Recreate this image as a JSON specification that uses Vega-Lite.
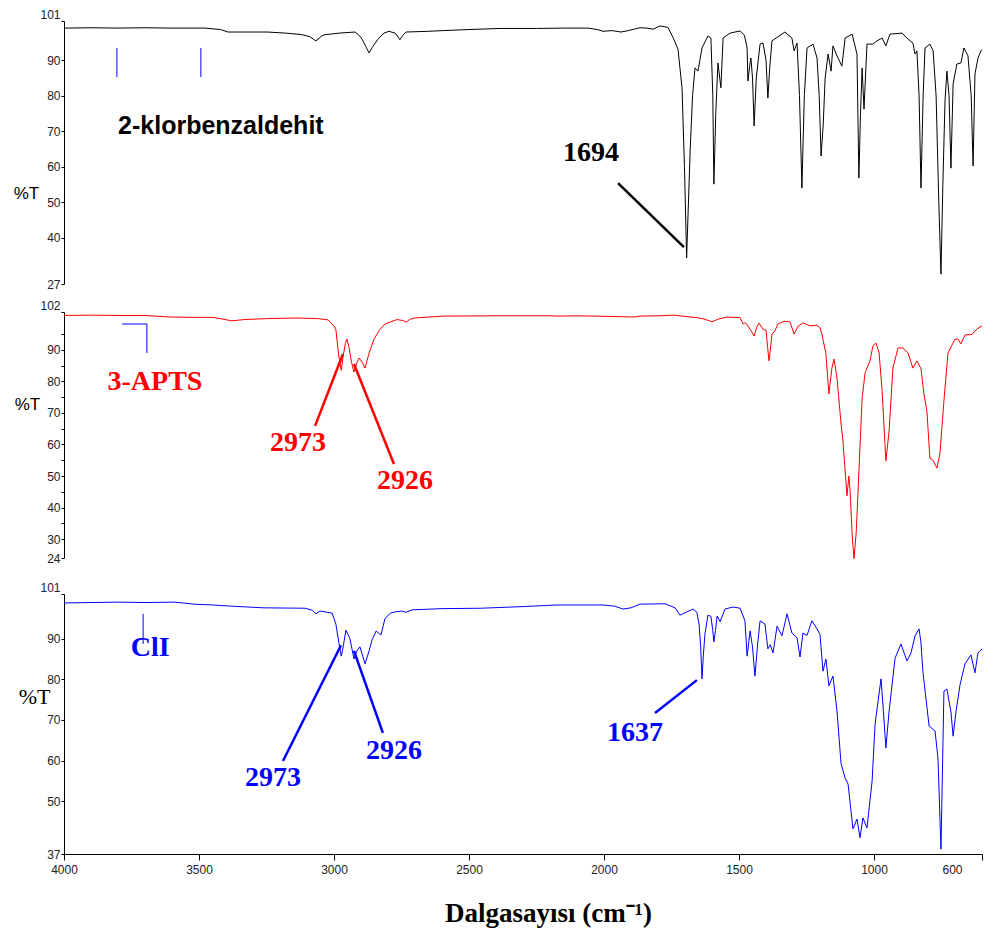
{
  "$schema": "https://vega.github.io/schema/vega-lite/v6.json",
  "background": "white",
  "padding": {"left": 13, "top": 8, "right": 5, "bottom": 5},
  "config": {
    "view": {"stroke": null},
    "axis": {
      "grid": false,
      "domainColor": "black",
      "tickColor": "black",
      "labelColor": "#222222",
      "labelFont": "Liberation Sans",
      "labelFontSize": 12,
      "labelOverlap": false,
      "titleColor": "black"
    }
  },
  "datasets": {
    "klor": [
      {"wn": 4000, "t": 99.0}, {"wn": 3900, "t": 99.1}, {"wn": 3800, "t": 99.0}, {"wn": 3700, "t": 99.1},
      {"wn": 3600, "t": 99.0}, {"wn": 3478, "t": 99.0}, {"wn": 3420, "t": 98.6}, {"wn": 3393, "t": 97.9},
      {"wn": 3300, "t": 97.9}, {"wn": 3248, "t": 97.9}, {"wn": 3180, "t": 97.6}, {"wn": 3122, "t": 97.2},
      {"wn": 3090, "t": 96.6}, {"wn": 3067, "t": 95.4}, {"wn": 3045, "t": 96.8}, {"wn": 3037, "t": 97.1},
      {"wn": 2980, "t": 97.6}, {"wn": 2922, "t": 97.9}, {"wn": 2905, "t": 96.8}, {"wn": 2896, "t": 95.9},
      {"wn": 2880, "t": 93.5}, {"wn": 2870, "t": 92.0}, {"wn": 2858, "t": 93.6}, {"wn": 2837, "t": 95.9},
      {"wn": 2815, "t": 97.6}, {"wn": 2796, "t": 98.1}, {"wn": 2774, "t": 97.6}, {"wn": 2765, "t": 96.8},
      {"wn": 2756, "t": 95.7}, {"wn": 2745, "t": 97.0}, {"wn": 2733, "t": 97.9}, {"wn": 2650, "t": 98.1},
      {"wn": 2596, "t": 98.3}, {"wn": 2500, "t": 98.6}, {"wn": 2385, "t": 98.9}, {"wn": 2250, "t": 98.9},
      {"wn": 2150, "t": 99.0}, {"wn": 2059, "t": 99.0}, {"wn": 2025, "t": 98.6}, {"wn": 2004, "t": 98.1},
      {"wn": 1970, "t": 98.3}, {"wn": 1937, "t": 97.9}, {"wn": 1910, "t": 98.3}, {"wn": 1889, "t": 98.7},
      {"wn": 1867, "t": 99.1}, {"wn": 1841, "t": 99.0}, {"wn": 1818, "t": 98.7}, {"wn": 1793, "t": 99.6},
      {"wn": 1763, "t": 99.2}, {"wn": 1744, "t": 96.3}, {"wn": 1726, "t": 93.1}, {"wn": 1711, "t": 82.2},
      {"wn": 1702, "t": 60.0}, {"wn": 1694, "t": 34.3}, {"wn": 1681, "t": 64.4}, {"wn": 1672, "t": 80.0},
      {"wn": 1663, "t": 87.8}, {"wn": 1652, "t": 86.9}, {"wn": 1637, "t": 93.4}, {"wn": 1615, "t": 96.8},
      {"wn": 1604, "t": 96.2}, {"wn": 1597, "t": 80.0}, {"wn": 1593, "t": 55.1}, {"wn": 1586, "t": 75.0},
      {"wn": 1578, "t": 89.2}, {"wn": 1567, "t": 82.2}, {"wn": 1559, "t": 96.2}, {"wn": 1533, "t": 97.6},
      {"wn": 1496, "t": 98.2}, {"wn": 1480, "t": 97.0}, {"wn": 1470, "t": 93.4}, {"wn": 1467, "t": 84.1},
      {"wn": 1461, "t": 88.0}, {"wn": 1456, "t": 90.6}, {"wn": 1450, "t": 85.0}, {"wn": 1444, "t": 71.5},
      {"wn": 1436, "t": 85.0}, {"wn": 1422, "t": 94.5}, {"wn": 1411, "t": 94.8}, {"wn": 1400, "t": 90.0},
      {"wn": 1393, "t": 79.3}, {"wn": 1386, "t": 88.0}, {"wn": 1378, "t": 95.4}, {"wn": 1330, "t": 97.9},
      {"wn": 1304, "t": 96.2}, {"wn": 1296, "t": 92.6}, {"wn": 1285, "t": 94.8}, {"wn": 1276, "t": 80.0},
      {"wn": 1267, "t": 54.0}, {"wn": 1258, "t": 80.0}, {"wn": 1248, "t": 93.4}, {"wn": 1226, "t": 94.5},
      {"wn": 1211, "t": 90.6}, {"wn": 1203, "t": 80.0}, {"wn": 1196, "t": 63.0}, {"wn": 1188, "t": 72.0},
      {"wn": 1181, "t": 85.0}, {"wn": 1170, "t": 91.7}, {"wn": 1159, "t": 86.9}, {"wn": 1152, "t": 94.0},
      {"wn": 1137, "t": 91.2}, {"wn": 1119, "t": 88.3}, {"wn": 1107, "t": 96.2}, {"wn": 1081, "t": 97.3},
      {"wn": 1063, "t": 91.7}, {"wn": 1056, "t": 56.8}, {"wn": 1050, "t": 75.0}, {"wn": 1044, "t": 87.8},
      {"wn": 1037, "t": 76.2}, {"wn": 1026, "t": 94.5}, {"wn": 1004, "t": 94.5}, {"wn": 989, "t": 95.4},
      {"wn": 970, "t": 96.2}, {"wn": 956, "t": 94.0}, {"wn": 941, "t": 97.3}, {"wn": 896, "t": 97.6},
      {"wn": 874, "t": 95.9}, {"wn": 856, "t": 94.8}, {"wn": 848, "t": 91.7}, {"wn": 841, "t": 92.6},
      {"wn": 833, "t": 80.0}, {"wn": 826, "t": 54.0}, {"wn": 818, "t": 80.0}, {"wn": 811, "t": 93.4},
      {"wn": 793, "t": 94.5}, {"wn": 781, "t": 92.6}, {"wn": 770, "t": 80.0}, {"wn": 760, "t": 50.0},
      {"wn": 752, "t": 29.8}, {"wn": 745, "t": 55.0}, {"wn": 737, "t": 78.5}, {"wn": 730, "t": 86.9},
      {"wn": 722, "t": 80.0}, {"wn": 715, "t": 59.6}, {"wn": 707, "t": 83.3}, {"wn": 693, "t": 88.9},
      {"wn": 678, "t": 89.2}, {"wn": 667, "t": 93.4}, {"wn": 652, "t": 91.2}, {"wn": 640, "t": 80.0},
      {"wn": 633, "t": 60.2}, {"wn": 626, "t": 86.1}, {"wn": 615, "t": 90.5}, {"wn": 604, "t": 92.6},
      {"wn": 600, "t": 93.0}
    ],
    "apts": [
      {"wn": 4000, "t": 100.9}, {"wn": 3900, "t": 101.0}, {"wn": 3800, "t": 100.9}, {"wn": 3704, "t": 100.9},
      {"wn": 3604, "t": 100.4}, {"wn": 3500, "t": 100.3}, {"wn": 3448, "t": 100.3}, {"wn": 3378, "t": 99.2},
      {"wn": 3333, "t": 99.6}, {"wn": 3250, "t": 99.9}, {"wn": 3137, "t": 100.1}, {"wn": 3060, "t": 99.9},
      {"wn": 3022, "t": 99.5}, {"wn": 3000, "t": 97.5}, {"wn": 2993, "t": 96.4}, {"wn": 2985, "t": 90.0},
      {"wn": 2981, "t": 87.4}, {"wn": 2973, "t": 83.5}, {"wn": 2966, "t": 88.0}, {"wn": 2958, "t": 92.0},
      {"wn": 2952, "t": 93.4}, {"wn": 2945, "t": 91.0}, {"wn": 2935, "t": 86.0}, {"wn": 2926, "t": 83.0},
      {"wn": 2915, "t": 86.0}, {"wn": 2907, "t": 87.4}, {"wn": 2895, "t": 86.0}, {"wn": 2885, "t": 84.2},
      {"wn": 2870, "t": 89.0}, {"wn": 2852, "t": 93.4}, {"wn": 2830, "t": 96.5}, {"wn": 2811, "t": 98.2},
      {"wn": 2767, "t": 99.6}, {"wn": 2745, "t": 99.3}, {"wn": 2733, "t": 98.8}, {"wn": 2720, "t": 99.6},
      {"wn": 2704, "t": 100.1}, {"wn": 2596, "t": 100.7}, {"wn": 2400, "t": 100.8}, {"wn": 2200, "t": 100.8},
      {"wn": 2174, "t": 100.7}, {"wn": 2100, "t": 100.8}, {"wn": 1974, "t": 100.6}, {"wn": 1889, "t": 100.4},
      {"wn": 1867, "t": 100.7}, {"wn": 1793, "t": 100.8}, {"wn": 1744, "t": 101.0}, {"wn": 1700, "t": 100.6},
      {"wn": 1656, "t": 100.2}, {"wn": 1630, "t": 99.8}, {"wn": 1600, "t": 98.9}, {"wn": 1575, "t": 99.8},
      {"wn": 1544, "t": 100.4}, {"wn": 1496, "t": 100.2}, {"wn": 1485, "t": 98.2}, {"wn": 1478, "t": 98.6},
      {"wn": 1470, "t": 98.0}, {"wn": 1455, "t": 96.0}, {"wn": 1444, "t": 94.4}, {"wn": 1435, "t": 97.0},
      {"wn": 1426, "t": 98.5}, {"wn": 1411, "t": 96.6}, {"wn": 1400, "t": 96.2}, {"wn": 1393, "t": 90.0},
      {"wn": 1389, "t": 86.5}, {"wn": 1384, "t": 90.0}, {"wn": 1378, "t": 95.0}, {"wn": 1367, "t": 96.0},
      {"wn": 1356, "t": 98.2}, {"wn": 1330, "t": 99.1}, {"wn": 1311, "t": 98.8}, {"wn": 1296, "t": 95.0},
      {"wn": 1281, "t": 97.5}, {"wn": 1263, "t": 98.6}, {"wn": 1237, "t": 97.6}, {"wn": 1211, "t": 97.8},
      {"wn": 1200, "t": 97.0}, {"wn": 1193, "t": 95.0}, {"wn": 1178, "t": 88.7}, {"wn": 1167, "t": 76.0},
      {"wn": 1156, "t": 84.2}, {"wn": 1148, "t": 87.1}, {"wn": 1137, "t": 81.1}, {"wn": 1122, "t": 66.5},
      {"wn": 1115, "t": 61.1}, {"wn": 1100, "t": 43.7}, {"wn": 1093, "t": 50.0}, {"wn": 1089, "t": 46.0},
      {"wn": 1080, "t": 30.0}, {"wn": 1074, "t": 23.8}, {"wn": 1066, "t": 32.0}, {"wn": 1059, "t": 45.2},
      {"wn": 1044, "t": 74.7}, {"wn": 1033, "t": 82.7}, {"wn": 1015, "t": 86.5}, {"wn": 1004, "t": 91.2},
      {"wn": 993, "t": 92.2}, {"wn": 981, "t": 89.0}, {"wn": 970, "t": 77.0}, {"wn": 956, "t": 54.8},
      {"wn": 944, "t": 64.3}, {"wn": 930, "t": 84.2}, {"wn": 911, "t": 90.6}, {"wn": 893, "t": 90.6},
      {"wn": 874, "t": 89.0}, {"wn": 856, "t": 84.2}, {"wn": 841, "t": 86.5}, {"wn": 826, "t": 84.0},
      {"wn": 815, "t": 76.0}, {"wn": 804, "t": 70.6}, {"wn": 793, "t": 55.7}, {"wn": 781, "t": 55.0},
      {"wn": 767, "t": 52.5}, {"wn": 756, "t": 57.0}, {"wn": 741, "t": 73.8}, {"wn": 726, "t": 89.0},
      {"wn": 700, "t": 93.4}, {"wn": 689, "t": 93.4}, {"wn": 678, "t": 91.9}, {"wn": 663, "t": 94.7},
      {"wn": 637, "t": 94.9}, {"wn": 619, "t": 96.6}, {"wn": 600, "t": 97.6}
    ],
    "cli": [
      {"wn": 4000, "t": 98.8}, {"wn": 3900, "t": 98.9}, {"wn": 3800, "t": 99.0}, {"wn": 3700, "t": 98.9},
      {"wn": 3589, "t": 99.0}, {"wn": 3519, "t": 98.5}, {"wn": 3450, "t": 98.3}, {"wn": 3378, "t": 98.0},
      {"wn": 3263, "t": 97.6}, {"wn": 3107, "t": 97.5}, {"wn": 3080, "t": 97.0}, {"wn": 3067, "t": 96.1},
      {"wn": 3052, "t": 96.8}, {"wn": 3007, "t": 96.3}, {"wn": 2993, "t": 93.6}, {"wn": 2982, "t": 89.0},
      {"wn": 2973, "t": 85.7}, {"wn": 2966, "t": 88.0}, {"wn": 2956, "t": 92.1}, {"wn": 2941, "t": 90.0},
      {"wn": 2926, "t": 85.0}, {"wn": 2915, "t": 87.0}, {"wn": 2904, "t": 88.0}, {"wn": 2895, "t": 86.0},
      {"wn": 2885, "t": 83.8}, {"wn": 2870, "t": 87.0}, {"wn": 2859, "t": 89.7}, {"wn": 2844, "t": 91.9},
      {"wn": 2826, "t": 90.9}, {"wn": 2811, "t": 95.0}, {"wn": 2790, "t": 96.3}, {"wn": 2774, "t": 96.6},
      {"wn": 2750, "t": 96.8}, {"wn": 2733, "t": 96.5}, {"wn": 2711, "t": 97.1}, {"wn": 2600, "t": 97.4},
      {"wn": 2456, "t": 97.5}, {"wn": 2300, "t": 97.9}, {"wn": 2174, "t": 98.3}, {"wn": 2004, "t": 98.3},
      {"wn": 1960, "t": 98.0}, {"wn": 1930, "t": 97.3}, {"wn": 1900, "t": 97.6}, {"wn": 1867, "t": 98.5},
      {"wn": 1774, "t": 98.6}, {"wn": 1737, "t": 97.6}, {"wn": 1719, "t": 95.8}, {"wn": 1693, "t": 96.6},
      {"wn": 1670, "t": 97.3}, {"wn": 1656, "t": 96.5}, {"wn": 1648, "t": 93.6}, {"wn": 1642, "t": 88.0},
      {"wn": 1637, "t": 80.1}, {"wn": 1632, "t": 86.0}, {"wn": 1626, "t": 91.2}, {"wn": 1615, "t": 95.8},
      {"wn": 1604, "t": 95.5}, {"wn": 1597, "t": 92.0}, {"wn": 1593, "t": 89.2}, {"wn": 1587, "t": 92.0},
      {"wn": 1581, "t": 95.6}, {"wn": 1570, "t": 94.2}, {"wn": 1552, "t": 97.3}, {"wn": 1522, "t": 97.8},
      {"wn": 1496, "t": 97.5}, {"wn": 1478, "t": 94.4}, {"wn": 1470, "t": 85.7}, {"wn": 1464, "t": 89.0},
      {"wn": 1459, "t": 91.9}, {"wn": 1450, "t": 88.0}, {"wn": 1441, "t": 80.8}, {"wn": 1432, "t": 88.0},
      {"wn": 1422, "t": 94.4}, {"wn": 1404, "t": 93.6}, {"wn": 1393, "t": 87.5}, {"wn": 1384, "t": 88.5},
      {"wn": 1374, "t": 86.5}, {"wn": 1359, "t": 93.1}, {"wn": 1341, "t": 90.7}, {"wn": 1322, "t": 96.1},
      {"wn": 1304, "t": 91.4}, {"wn": 1285, "t": 90.2}, {"wn": 1274, "t": 85.5}, {"wn": 1263, "t": 91.4},
      {"wn": 1248, "t": 90.8}, {"wn": 1230, "t": 94.4}, {"wn": 1211, "t": 92.4}, {"wn": 1200, "t": 91.0},
      {"wn": 1189, "t": 82.0}, {"wn": 1178, "t": 85.0}, {"wn": 1167, "t": 78.4}, {"wn": 1152, "t": 80.8},
      {"wn": 1137, "t": 72.2}, {"wn": 1122, "t": 59.2}, {"wn": 1107, "t": 55.7}, {"wn": 1096, "t": 54.2},
      {"wn": 1078, "t": 43.2}, {"wn": 1063, "t": 45.6}, {"wn": 1052, "t": 41.0}, {"wn": 1041, "t": 45.9},
      {"wn": 1026, "t": 43.4}, {"wn": 1007, "t": 55.0}, {"wn": 996, "t": 69.0}, {"wn": 974, "t": 80.1},
      {"wn": 965, "t": 72.0}, {"wn": 956, "t": 63.1}, {"wn": 944, "t": 72.2}, {"wn": 922, "t": 85.2},
      {"wn": 900, "t": 88.7}, {"wn": 878, "t": 84.5}, {"wn": 863, "t": 86.5}, {"wn": 848, "t": 90.7},
      {"wn": 833, "t": 92.4}, {"wn": 826, "t": 89.0}, {"wn": 819, "t": 82.0}, {"wn": 796, "t": 68.5},
      {"wn": 774, "t": 67.3}, {"wn": 763, "t": 60.6}, {"wn": 752, "t": 38.2}, {"wn": 741, "t": 77.1},
      {"wn": 730, "t": 77.6}, {"wn": 715, "t": 72.0}, {"wn": 707, "t": 66.0}, {"wn": 696, "t": 72.2},
      {"wn": 681, "t": 78.8}, {"wn": 663, "t": 83.8}, {"wn": 641, "t": 86.0}, {"wn": 626, "t": 81.6},
      {"wn": 615, "t": 86.5}, {"wn": 600, "t": 87.5}
    ],
    "klorPointer": [{"wn": 1948, "t": 55.4, "wn2": 1704, "t2": 37.4}],
    "klorMarks": [
      {"wn": 3804, "t": 93.4, "wn2": 3804, "t2": 85.2},
      {"wn": 3493, "t": 93.4, "wn2": 3493, "t2": 85.2}
    ],
    "klorName": [{"wn": 3419, "t": 71.5, "label": "2-klorbenzaldehit"}],
    "klorPeak": [{"wn": 2048, "t": 63.9, "label": "1694"}],
    "aptsPointers": [
      {"wn": 3070, "t": 65.9, "wn2": 2967, "t2": 88.7},
      {"wn": 2778, "t": 53.8, "wn2": 2926, "t2": 85.5}
    ],
    "aptsMarks": [
      {"wn": 3785, "t": 98.2, "wn2": 3693, "t2": 98.2},
      {"wn": 3693, "t": 98.2, "wn2": 3693, "t2": 89.0}
    ],
    "aptsLabels": [
      {"wn": 3663, "t": 79.8, "label": "3-APTS"},
      {"wn": 3133, "t": 60.5, "label": "2973"},
      {"wn": 2737, "t": 48.4, "label": "2926"}
    ],
    "cliPointers": [
      {"wn": 3189, "t": 59.9, "wn2": 2974, "t2": 88.4},
      {"wn": 2819, "t": 66.8, "wn2": 2926, "t2": 87.0},
      {"wn": 1811, "t": 71.7, "wn2": 1656, "t2": 79.8}
    ],
    "cliMarks": [{"wn": 3707, "t": 96.1, "wn2": 3707, "t2": 88.7}],
    "cliLabels": [
      {"wn": 3681, "t": 87.7, "label": "ClI"},
      {"wn": 3226, "t": 55.7, "label": "2973"},
      {"wn": 2778, "t": 62.4, "label": "2926"},
      {"wn": 1885, "t": 66.8, "label": "1637"}
    ]
  },
  "spacing": 28,
  "bounds": "flush",
  "vconcat": [
    {
      "width": 918,
      "height": 263,
      "layer": [
        {
          "data": {"name": "klor"},
          "mark": {"type": "line", "color": "black", "strokeWidth": 1},
          "encoding": {
            "x": {"field": "wn", "type": "quantitative", "scale": {"domain": [600, 4000], "reverse": true, "nice": false, "zero": false}, "axis": null},
            "y": {
              "field": "t", "type": "quantitative",
              "scale": {"domain": [27, 101], "nice": false, "zero": false},
              "axis": {
                "title": "%T", "titleAngle": 0, "titleX": -38, "titleY": 172,
                "titleAlign": "center", "titleBaseline": "middle",
                "titleFont": "Liberation Sans", "titleFontSize": 17, "titleFontWeight": "normal",
                "values": [27, 40, 50, 60, 70, 80, 90, 101],
                "tickCount": 100, "format": "d",
                "labelOverlap": false, "labelBound": false,
                "tickSize": 3, "labelPadding": 1,
                "labelBaseline": {"condition": {"test": "datum.value > 100", "value": "bottom"}, "value": "middle"}
              }
            }
          }
        },
        {
          "data": {"name": "klorPointer"},
          "mark": {"type": "rule", "color": "black", "strokeWidth": 2.5},
          "encoding": {
            "x": {"field": "wn", "type": "quantitative"}, "x2": {"field": "wn2"},
            "y": {"field": "t", "type": "quantitative"}, "y2": {"field": "t2"}
          }
        },
        {
          "data": {"name": "klorMarks"},
          "mark": {"type": "rule", "color": "blue", "strokeWidth": 1},
          "encoding": {
            "x": {"field": "wn", "type": "quantitative"}, "x2": {"field": "wn2"},
            "y": {"field": "t", "type": "quantitative"}, "y2": {"field": "t2"}
          }
        },
        {
          "data": {"name": "klorName"},
          "mark": {"type": "text", "color": "black", "font": "Liberation Sans", "fontWeight": "bold", "fontSize": 25, "align": "center", "baseline": "middle"},
          "encoding": {
            "x": {"field": "wn", "type": "quantitative"},
            "y": {"field": "t", "type": "quantitative"},
            "text": {"field": "label"}
          }
        },
        {
          "data": {"name": "klorPeak"},
          "mark": {"type": "text", "color": "black", "font": "Liberation Serif", "fontWeight": "bold", "fontSize": 28, "align": "center", "baseline": "middle"},
          "encoding": {
            "x": {"field": "wn", "type": "quantitative"},
            "y": {"field": "t", "type": "quantitative"},
            "text": {"field": "label"}
          }
        }
      ]
    },
    {
      "width": 918,
      "height": 254,
      "layer": [
        {
          "data": {"name": "apts"},
          "mark": {"type": "line", "color": "red", "strokeWidth": 1},
          "encoding": {
            "x": {"field": "wn", "type": "quantitative", "scale": {"domain": [600, 4000], "reverse": true, "nice": false, "zero": false}, "axis": null},
            "y": {
              "field": "t", "type": "quantitative",
              "scale": {"domain": [24, 102], "nice": false, "zero": false, "range": [246, 0]},
              "axis": {
                "title": "%T", "titleAngle": 0, "titleX": -37, "titleY": 92,
                "titleAlign": "center", "titleBaseline": "middle",
                "titleFont": "Liberation Sans", "titleFontSize": 17, "titleFontWeight": "normal",
                "values": [24, 30, 35, 40, 45, 50, 55, 60, 65, 70, 75, 80, 85, 90, 95, 102],
                "tickCount": 100, "format": "d",
                "labelExpr": "(datum.value % 10 == 0 || datum.value == 24 || datum.value == 102) ? datum.label : ''",
                "labelOverlap": false, "labelBound": false,
                "tickSize": 3, "labelPadding": 1,
                "labelBaseline": {"condition": {"test": "datum.value > 100", "value": "bottom"}, "value": "middle"}
              }
            }
          }
        },
        {
          "data": {"name": "aptsPointers"},
          "mark": {"type": "rule", "color": "red", "strokeWidth": 2.5},
          "encoding": {
            "x": {"field": "wn", "type": "quantitative"}, "x2": {"field": "wn2"},
            "y": {"field": "t", "type": "quantitative"}, "y2": {"field": "t2"}
          }
        },
        {
          "data": {"name": "aptsMarks"},
          "mark": {"type": "rule", "color": "blue", "strokeWidth": 1},
          "encoding": {
            "x": {"field": "wn", "type": "quantitative"}, "x2": {"field": "wn2"},
            "y": {"field": "t", "type": "quantitative"}, "y2": {"field": "t2"}
          }
        },
        {
          "data": {"name": "aptsLabels"},
          "mark": {"type": "text", "color": "red", "font": "Liberation Serif", "fontWeight": "bold", "fontSize": 28, "align": "center", "baseline": "middle"},
          "encoding": {
            "x": {"field": "wn", "type": "quantitative"},
            "y": {"field": "t", "type": "quantitative"},
            "text": {"field": "label"}
          }
        }
      ]
    },
    {
      "width": 918,
      "height": 260,
      "layer": [
        {
          "data": {"name": "cli"},
          "mark": {"type": "line", "color": "blue", "strokeWidth": 1},
          "encoding": {
            "x": {
              "field": "wn", "type": "quantitative",
              "scale": {"domain": [600, 4000], "reverse": true, "nice": false, "zero": false},
              "axis": {
                "values": [4000, 3500, 3000, 2500, 2000, 1500, 1000, 600],
                "tickCount": 100,
                "format": "d",
                "labelOverlap": false,
                "tickSize": 6, "labelPadding": 4, "labelFlush": false,
                "labelOffset": {"condition": {"test": "datum.value == 600", "value": -30}, "value": 0},
                "title": "Dalgasayısı (cm⁻¹)",
                "titleFont": "Liberation Serif", "titleFontSize": 27, "titleFontWeight": "bold",
                "titleX": 484, "titleY": 59, "titleAlign": "center", "titleBaseline": "middle"
              }
            },
            "y": {
              "field": "t", "type": "quantitative",
              "scale": {"domain": [37, 101], "nice": false, "zero": false},
              "axis": {
                "title": "%T", "titleAngle": 0, "titleX": -30, "titleY": 102,
                "titleAlign": "center", "titleBaseline": "middle",
                "titleFont": "Liberation Serif", "titleFontSize": 22, "titleFontWeight": "normal",
                "values": [37, 50, 60, 70, 80, 90, 101],
                "tickCount": 100, "format": "d",
                "labelOverlap": false, "labelBound": false,
                "tickSize": 3, "labelPadding": 1,
                "labelBaseline": {"condition": {"test": "datum.value > 100", "value": "bottom"}, "value": "middle"}
              }
            }
          }
        },
        {
          "data": {"name": "cliPointers"},
          "mark": {"type": "rule", "color": "blue", "strokeWidth": 2.5},
          "encoding": {
            "x": {"field": "wn", "type": "quantitative"}, "x2": {"field": "wn2"},
            "y": {"field": "t", "type": "quantitative"}, "y2": {"field": "t2"}
          }
        },
        {
          "data": {"name": "cliMarks"},
          "mark": {"type": "rule", "color": "blue", "strokeWidth": 1},
          "encoding": {
            "x": {"field": "wn", "type": "quantitative"}, "x2": {"field": "wn2"},
            "y": {"field": "t", "type": "quantitative"}, "y2": {"field": "t2"}
          }
        },
        {
          "data": {"name": "cliLabels"},
          "mark": {"type": "text", "color": "blue", "font": "Liberation Serif", "fontWeight": "bold", "fontSize": 28, "align": "center", "baseline": "middle"},
          "encoding": {
            "x": {"field": "wn", "type": "quantitative"},
            "y": {"field": "t", "type": "quantitative"},
            "text": {"field": "label"}
          }
        }
      ]
    }
  ]
}
